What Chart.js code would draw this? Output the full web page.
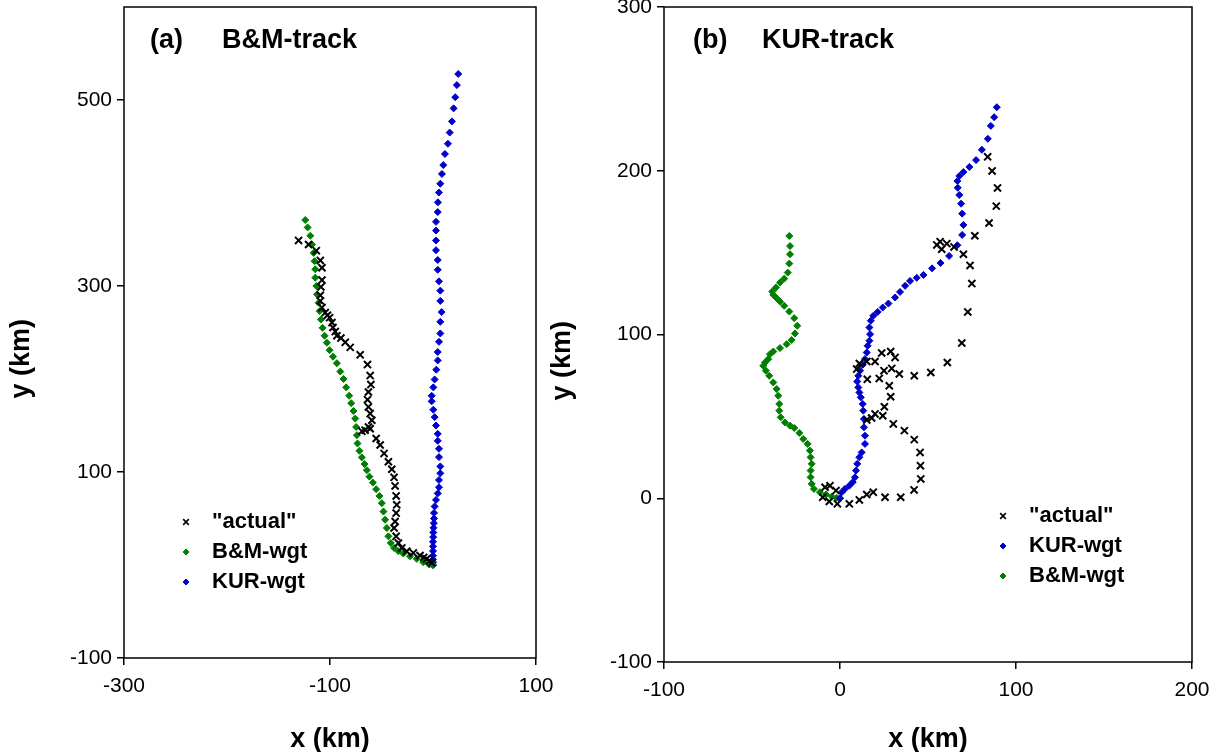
<!DOCTYPE html>
<html lang="en">
<head>
<meta charset="UTF-8">
<title>Track comparison</title>
<script src="https://cdn.jsdelivr.net/npm/chart.js@4.4.1/dist/chart.umd.min.js"></script>
<style>
  html, body { margin: 0; padding: 0; background: #fff; }
  body { width: 1213px; height: 752px; position: relative; overflow: hidden; }
  #panelA { position: absolute; left: 0; top: 0; }
  #panelB { position: absolute; left: 545px; top: 0; }
</style>
</head>
<body>
<canvas id="panelA" width="600" height="752"></canvas>
<canvas id="panelB" width="668" height="752"></canvas>
<script>
// ---- panel (a): B&M-track ----
const aXTicks = [-300, -100, 100];
const aYTicks = [-100, 100, 300, 500];

const aActual = [
  [-130.5,349],[-120.8,344.6],[-113.3,338],[-109.4,327.5],[-107.8,319.6],[-107.8,306.4],[-108.8,299],
  [-109.4,290],[-109.4,284],[-107.8,276.8],[-104.6,271.4],[-102.5,268.5],[-100.4,266],[-98.1,260.7],
  [-97.1,255.4],[-94.9,251],[-93.3,246.5],[-89.4,244],[-85.2,239.4],[-80.4,234],[-70.7,226],[-63.6,215.5],
  [-61,203.7],[-60.3,194],[-62.7,186],[-63.6,177.8],[-62.7,170],[-61,162.8],[-59.4,155.6],[-62.7,148.4],
  [-65.9,145],[-69.1,143.9],[-61,146.5],[-55.2,136],[-51.3,129],[-47.5,120],[-43.3,111],[-40,103],
  [-37.8,94.3],[-36.8,85],[-35.8,74.3],[-35.2,64.7],[-35.8,55.8],[-36.8,46.8],[-37.8,39.8],[-35.8,30.8],
  [-33.6,23.7],[-30.3,18.4],[-25.5,14.8],[-19.1,13],[-12.6,10.2],[-9,8.2],[-6.1,6.6],[-3.5,4.5],[-1.3,2.4]
];
const aBM = [
  [-124,371],[-121.7,363],[-119.1,354],[-117.5,344.6],[-115.9,335.6],[-115,326.7],[-114.3,318],[-114.3,309],
  [-113.3,300],[-112.6,291],[-111,282],[-110,273],[-108.8,264],[-107.2,255],[-105.3,246.5],[-103,239],
  [-100.4,231],[-97.1,224],[-93.3,217],[-90,208],[-86.9,200],[-84.3,191],[-81.4,182],[-79.4,174],
  [-77.2,165.6],[-75.5,157.4],[-74.6,148.4],[-73.9,139.6],[-73.3,130.7],[-71.4,122.8],[-69.1,115.7],
  [-66.5,108.6],[-64.2,102],[-61.7,95],[-58.4,88.6],[-55.2,81.5],[-52,74.3],[-49.7,66.5],[-48.1,57.5],
  [-46.5,48.7],[-44.8,39.8],[-43.3,30.8],[-41,23.7],[-37.8,18.4],[-33.6,14.8],[-28.8,12.3],[-22.3,9.4],
  [-15.8,6.6],[-9.4,3],[-3.6,0.5],[0,0]
];
const aKUR = [
  [24.5,528],[23.2,516],[21.6,503],[20,491],[18.4,477],[16.2,465],[14.5,453],[11.6,442],[10,430],
  [8.7,420.5],[7.1,410],[5.8,400.5],[4.8,390],[4.6,379.5],[2.9,369],[2.9,359.6],[2.9,349],[2.9,338.5],
  [4.6,328],[4.6,317.4],[5.8,305],[7.1,295],[7.1,284],[8.4,272],[7.1,261.5],[7.1,249],[5.8,240],
  [4.6,229],[4.6,220],[3.2,210],[1.6,199.5],[0.3,191],[-1.3,182],[-1.3,176],[0.3,167],[1.6,159],
  [2.9,150],[4.6,141],[4.6,133.5],[5.8,125],[5.8,116],[7.1,106],[7.1,98.6],[5.8,91.4],[5.8,83.6],
  [4.6,77],[2.9,70],[1.6,63],[1,56],[1,50],[0.8,45],[0.5,40],[0.3,35],[0.2,30],[0,25],[0,20],
  [0,15],[0,10],[0,6],[0,3],[0,0]
];

// ---- panel (b): KUR-track ----
const bXTicks = [-100, 0, 100, 200];
const bYTicks = [-100, 0, 100, 200, 300];

const bActual = [
  [83.9,208.5],[86.4,199.9],[89.5,189.5],[88.8,178.4],[84.7,168.1],[76.6,160.3],[70.1,149],[73.9,142.2],
  [74.9,131.1],[72.6,113.8],[69.2,94.8],[61,82.9],[51.6,76.8],[42.2,74.8],[33.7,75.9],
  [56.9,156.7],[55,154.7],[57.8,152.1],[60.7,155.5],[64.8,153.5],
  [31.3,86],[28.8,89.6],[23.7,88.7],[19.9,83.5],[15.2,83.5],[11,82.3],[9.5,78.9],[15.5,72.6],
  [22.3,73.2],[25,77.9],[29.4,79.3],[28,68.7],[28.8,62],[25.2,55.9],[24.3,50.4],[19.9,51.5],
  [18,49],[15.2,47.8],[30.3,45.4],[36.6,41.3],[42.2,35.8],[45.5,28],[45.7,19.9],[45.9,11.8],
  [42.1,5.1],[34.5,0.6],[25.6,0.6],[18.9,3.7],[15.2,2.3],[11,-1],[5.3,-3.4],[-1.5,-3.4],
  [-6.1,-2],[-9.8,0.6],[-8.5,6.7],[-5.7,7.7],[-2.3,4.7]
];
const bKUR = [
  [0,0],[1,3.7],[2.8,5.7],[5.3,7.7],[7.2,9.8],[8.5,12.8],[9.1,16.9],[9.8,21],[11,25],[12.3,28],
  [14.2,33.2],[14.2,38.2],[13.6,43.3],[13.6,48.4],[13.2,53.5],[12.9,57.6],[11.8,61.6],[11,64.6],
  [10.4,67.7],[9.8,71.3],[10.4,74.8],[11.4,77.9],[12.9,81.5],[14.2,85],[15.2,89],[15.7,93.1],
  [16.7,96.2],[17.1,100.2],[16.7,104.3],[17.5,108.4],[18.9,111.4],[21.4,113.8],[24.3,116.5],
  [27.5,118.9],[31.3,122.6],[34.1,126],[37,129.7],[39.8,132.7],[43.6,134.6],[47.4,136.4],
  [52.3,140.4],[57.1,143.7],[62,148],[66.7,154.5],[69.4,160.8],[70.1,166.9],[69.4,173.8],
  [68.8,179.9],[67.8,185.2],[66.9,189.6],[66.7,193.7],[67.8,196.8],[70.1,199.2],[73.5,202.3],
  [77.3,206.5],[80.6,212.8],[84,219.5],[85.7,227.4],[87.6,232.7],[89.1,238.8]
];
const bBM = [
  [-28.8,160.2],[-28.4,154],[-28.4,149],[-28.8,143.3],[-29.7,137.8],[-31.7,134.1],[-34.1,131.7],
  [-36.4,128.7],[-38.5,126.2],[-37.9,124.2],[-36,122.2],[-34.1,120.1],[-31.7,117.5],[-28.8,114],
  [-26,110],[-24.3,105.3],[-25.6,100.6],[-27.5,96.6],[-30.3,94.1],[-34.1,91.7],[-37.9,89.6],
  [-39.8,88],[-40.8,85],[-42.6,82.9],[-43.6,80.9],[-42.1,77.9],[-40.2,74.8],[-37.9,70.7],[-36,66.7],
  [-35.1,62.6],[-34.5,57.6],[-34.5,53.5],[-33.7,49.4],[-31.3,46.3],[-28.4,44.3],[-26,42.9],
  [-23.1,39.9],[-20.9,36.2],[-18.4,33.2],[-17.1,29.1],[-16.7,25],[-16.1,21],[-16.7,16.9],
  [-16.7,12.8],[-16.1,8.8],[-14.8,5.7],[-11.4,3.7],[-8,2.3],[-4.7,1],[-1.9,0.2],[0,0]
];

const FONT = '"Liberation Sans", Arial, Helvetica, sans-serif';
const BLUE = '#0000cc';
const GREEN = '#008000';
// the y titles sit a bit below the middle of the plot, pad them on the trailing side
const Y_TITLE = 'y (km)' + '\u00a0'.repeat(7);

function actualSet(data) {
  return { label: '"actual"', data, pointStyle: 'crossRot', pointRadius: 5,
           borderColor: '#000', backgroundColor: '#000', borderWidth: 2 };
}
function diamondSet(label, data, color) {
  return { label, data, pointStyle: 'rectRot', pointRadius: 3.5,
           borderColor: color, backgroundColor: color, borderWidth: 1 };
}

// box round the plot area
const frame = {
  id: 'frame',
  afterDraw(chart) {
    const { ctx, chartArea: a } = chart;
    ctx.save();
    ctx.strokeStyle = '#000';
    ctx.lineWidth = 1.5;
    ctx.strokeRect(a.left, a.top, a.right - a.left, a.bottom - a.top);
    ctx.restore();
  }
};

// legend sitting inside the plot
const innerLegend = {
  id: 'innerLegend',
  afterDraw(chart, args, opts) {
    const ctx = chart.ctx;
    ctx.save();
    ctx.font = 'bold 22px ' + FONT;
    ctx.textBaseline = 'middle';
    chart.data.datasets.forEach((ds, i) => {
      const y = opts.y + i * opts.gap;
      ctx.fillStyle = ds.backgroundColor;
      ctx.strokeStyle = ds.borderColor;
      ctx.lineWidth = ds.pointStyle === 'crossRot' ? 1.6 : 1;
      Chart.helpers.drawPoint(ctx, { pointStyle: ds.pointStyle, radius: ds.pointStyle === 'crossRot' ? 4 : 3,
        rotation: 0, borderWidth: ctx.lineWidth }, opts.x, y);
      ctx.fillStyle = '#000';
      ctx.fillText(ds.label, opts.x + 26, y);
    });
    ctx.restore();
  }
};

// "(a)  B&M-track" style label
const panelLabel = {
  id: 'panelLabel',
  afterDraw(chart, args, opts) {
    const ctx = chart.ctx;
    ctx.save();
    ctx.font = 'bold 27px ' + FONT;
    ctx.textBaseline = 'middle';
    ctx.fillStyle = '#000';
    ctx.fillText(opts.tag, opts.x1, opts.y);
    ctx.fillText(opts.name, opts.x2, opts.y);
    ctx.restore();
  }
};

function axis(min, max, ticks, titleText, titlePad, size) {
  const horiz = titleText[0] === 'x';
  return {
    type: 'linear', min, max,
    afterBuildTicks: s => { s.ticks = ticks.map(v => ({ value: v })); },
    afterFit: s => {
      if (s.isHorizontal()) s.height = size; else s.width = size;
      s.paddingLeft = 0; s.paddingRight = 0; s.paddingTop = 0; s.paddingBottom = 0;
    },
    ticks: { color: '#000', font: { family: FONT, size: 21 }, padding: horiz ? 9 : 5, maxRotation: 0 },
    grid: { drawOnChartArea: false, color: '#000', lineWidth: 1.5, tickLength: 7 },
    border: { display: false },
    title: { display: true, text: titleText, color: '#000',
             font: { family: FONT, size: 27, weight: 'bold', lineHeight: 1 }, padding: titlePad }
  };
}

function makeChart(canvas, cfg) {
  return new Chart(canvas, {
    type: 'scatter',
    data: { datasets: cfg.datasets },
    options: {
      responsive: false,
      animation: false,
      events: [],
      layout: { padding: cfg.padding },
      plugins: {
        legend: { display: false },
        tooltip: { enabled: false },
        innerLegend: cfg.legend,
        panelLabel: cfg.label
      },
      scales: { x: cfg.x, y: cfg.y }
    },
    plugins: [frame, innerLegend, panelLabel]
  });
}

makeChart(document.getElementById('panelA'), {
  datasets: [actualSet(aActual), diamondSet('B&M-wgt', aBM, GREEN), diamondSet('KUR-wgt', aKUR, BLUE)],
  padding: { left: 0, top: 5, right: 64, bottom: 0 },
  x: axis(-300, 100, aXTicks, 'x (km)', { top: 0, bottom: -1 }, 94),
  y: axis(-100, 600, aYTicks, Y_TITLE, { top: 8, bottom: 0 }, 124),
  legend: { x: 186, y: 522, gap: 30 },
  label: { tag: '(a)', name: 'B&M-track', x1: 150, x2: 222, y: 41 }
});

makeChart(document.getElementById('panelB'), {
  datasets: [actualSet(bActual), diamondSet('KUR-wgt', bKUR, BLUE), diamondSet('B&M-wgt', bBM, GREEN)],
  padding: { left: 0, top: 6, right: 21, bottom: 0 },
  x: axis(-100, 200, bXTicks, 'x (km)', { top: 0, bottom: -1 }, 90),
  y: axis(-100, 300, bYTicks, Y_TITLE, { top: 4, bottom: 0 }, 119),
  legend: { x: 458, y: 516, gap: 30 },
  label: { tag: '(b)', name: 'KUR-track', x1: 148, x2: 217, y: 41 }
});
</script>
</body>
</html>
